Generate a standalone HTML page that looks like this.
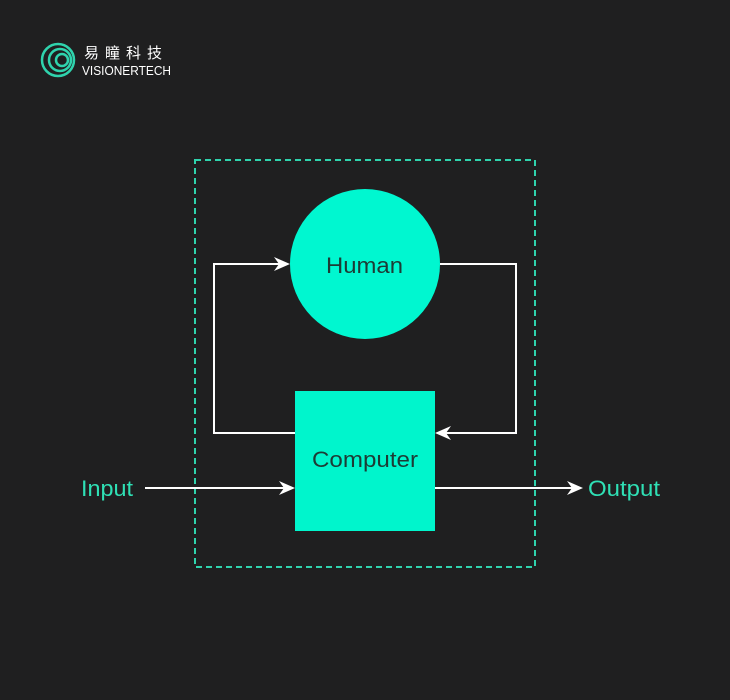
<!DOCTYPE html>
<html><head><meta charset="utf-8"><style>
html,body{margin:0;padding:0;background:#1f1f20;width:730px;height:700px;overflow:hidden}
</style></head><body>
<svg width="730" height="700" xmlns="http://www.w3.org/2000/svg">
<rect width="730" height="700" fill="#1f1f20"/>
<g fill="none" stroke="#2fd3ad" stroke-width="2.5">
<circle cx="58" cy="60" r="16"/>
<circle cx="60" cy="60" r="11"/>
<circle cx="62" cy="60" r="6"/>
</g>
<text x="84" y="58" fill="#fff" font-family="'Liberation Sans','Noto Sans CJK SC',sans-serif" font-size="15" letter-spacing="6" textLength="84">易瞳科技</text>
<text x="82" y="75" fill="#fff" font-family="'Liberation Sans',sans-serif" font-size="12.5" textLength="89" lengthAdjust="spacingAndGlyphs">VISIONERTECH</text>
<rect x="195" y="160" width="340" height="407" fill="none" stroke="#2fd3ad" stroke-width="2" stroke-dasharray="6,4"/>
<circle cx="365" cy="264" r="75" fill="#00f7d0"/>
<text x="326" y="273" font-family="'Liberation Sans',sans-serif" font-size="22" fill="#1d3b35" textLength="77" lengthAdjust="spacingAndGlyphs">Human</text>
<rect x="295" y="391" width="140" height="140" fill="#00f5cc"/>
<text x="312" y="467" font-family="'Liberation Sans',sans-serif" font-size="22" fill="#1d3b35" textLength="106" lengthAdjust="spacingAndGlyphs">Computer</text>
<g fill="none" stroke="#fff" stroke-width="2">
<polyline points="295,433 214,433 214,264 284,264"/>
<polyline points="440,264 516,264 516,433 442,433"/>
<line x1="145" y1="488" x2="288" y2="488"/>
<line x1="435" y1="488" x2="576" y2="488"/>
</g>
<g fill="#fff">
<path d="M290,264 L274,257 L279,264 L274,271 Z"/>
<path d="M435,433 L451,426 L446,433 L451,440 Z"/>
<path d="M295,488 L279,481 L284,488 L279,495 Z"/>
<path d="M583,488 L567,481 L572,488 L567,495 Z"/>
</g>
<text x="81" y="496" font-family="'Liberation Sans',sans-serif" font-size="22" fill="#2fe0b5" textLength="52" lengthAdjust="spacingAndGlyphs">Input</text>
<text x="588" y="496" font-family="'Liberation Sans',sans-serif" font-size="22" fill="#2fe0b5" textLength="72" lengthAdjust="spacingAndGlyphs">Output</text>
</svg>
</body></html>
